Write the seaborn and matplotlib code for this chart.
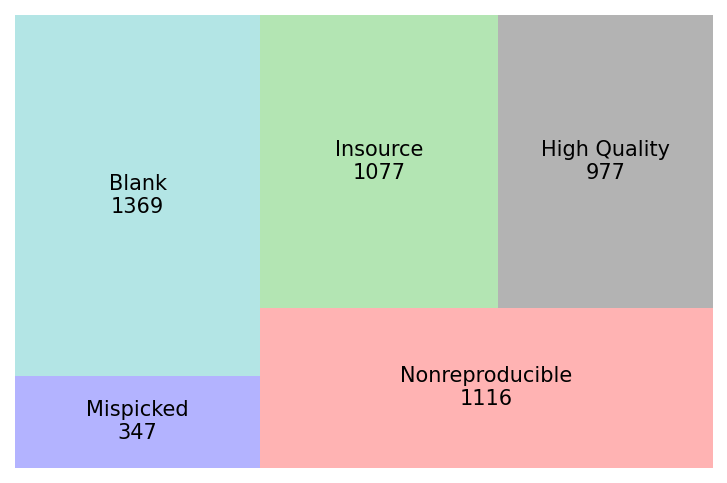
import matplotlib
matplotlib.use("Agg")
import matplotlib.pyplot as plt
import seaborn as sns

# Data (order as laid out by squarify)
labels = ["Mispicked", "Blank", "Nonreproducible", "Insource", "High Quality"]
values = [347, 1369, 1116, 1077, 977]
colors = ["#b3b3ff", "#b3e5e5", "#ffb3b3", "#b3e5b3", "#b3b3b3"]

NORM_X, NORM_Y = 100.0, 100.0


def normalize_sizes(sizes, dx, dy):
    total = sum(sizes)
    return [s * dx * dy / total for s in sizes]


def layoutrow(sizes, x, y, dx, dy):
    covered = sum(sizes)
    width = covered / dy
    rects = []
    for s in sizes:
        rects.append((x, y, width, s / width))
        y += s / width
    return rects


def layoutcol(sizes, x, y, dx, dy):
    covered = sum(sizes)
    height = covered / dx
    rects = []
    for s in sizes:
        rects.append((x, y, s / height, height))
        x += s / height
    return rects


def layout(sizes, x, y, dx, dy):
    return layoutrow(sizes, x, y, dx, dy) if dx >= dy else layoutcol(sizes, x, y, dx, dy)


def leftoverrow(sizes, x, y, dx, dy):
    width = sum(sizes) / dy
    return x + width, y, dx - width, dy


def leftovercol(sizes, x, y, dx, dy):
    height = sum(sizes) / dx
    return x, y + height, dx, dy - height


def leftover(sizes, x, y, dx, dy):
    return leftoverrow(sizes, x, y, dx, dy) if dx >= dy else leftovercol(sizes, x, y, dx, dy)


def worst_ratio(sizes, x, y, dx, dy):
    return max(max(r[2] / r[3], r[3] / r[2]) for r in layout(sizes, x, y, dx, dy))


def squarify(sizes, x, y, dx, dy):
    sizes = list(sizes)
    if len(sizes) == 0:
        return []
    if len(sizes) == 1:
        return layout(sizes, x, y, dx, dy)
    i = 1
    while i < len(sizes) and worst_ratio(sizes[:i], x, y, dx, dy) >= worst_ratio(sizes[:i + 1], x, y, dx, dy):
        i += 1
    current = sizes[:i]
    remaining = sizes[i:]
    lx, ly, ldx, ldy = leftover(current, x, y, dx, dy)
    return layout(current, x, y, dx, dy) + squarify(remaining, lx, ly, ldx, ldy)


sns.set_theme(style="white")
plt.rcParams["font.family"] = ["DejaVu Sans"]

fig = plt.figure(figsize=(7.27, 4.83), dpi=100)
ax = fig.add_axes([15 / 727, 15.5 / 483, 698 / 727, 452.5 / 483])

rects = squarify(normalize_sizes(values, NORM_X, NORM_Y), 0, 0, NORM_X, NORM_Y)
for (rx, ry, rdx, rdy), lab, val, col in zip(rects, labels, values, colors):
    ax.bar(rx, rdy, width=rdx, bottom=ry, align="edge", color=col, linewidth=0)
    ax.text(rx + rdx / 2, ry + rdy / 2, f"{lab}\n{val}", ha="center", va="center",
            fontsize=15, color="black")

ax.set_xlim(0, NORM_X)
ax.set_ylim(0, NORM_Y)
ax.axis("off")
fig.savefig("out.png", dpi=100)
